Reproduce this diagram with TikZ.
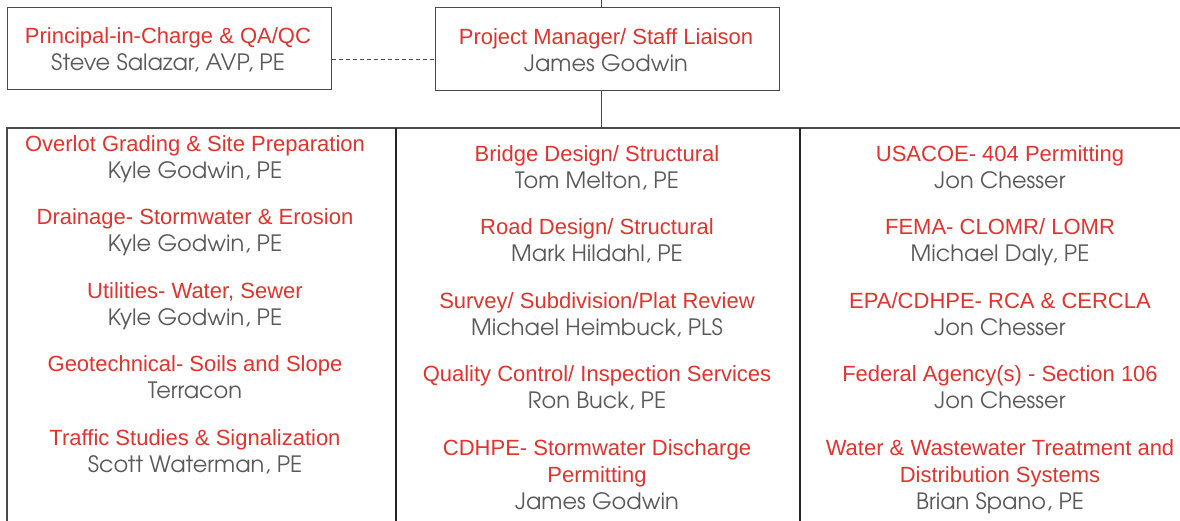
\documentclass[tikz,border=0pt]{standalone}
\usepackage{fontspec}
\setmainfont{Liberation Sans}
\newfontfamily\gothic{TeX Gyre Adventor}
\definecolor{ttlred}{HTML}{E0342C}
\definecolor{nmgray}{HTML}{595959}
\definecolor{frame}{HTML}{4A4A4A}
\newcommand{\tl}[1]{{\color{ttlred}#1}}
\newcommand{\nm}[1]{{\color{nmgray}\gothic\fontsize{22.5}{26.7}\selectfont #1}}
\begin{document}
\begin{tikzpicture}[x=1pt,y=-1pt,
  txt/.style={align=center,inner sep=0pt,anchor=base,font=\fontsize{22}{26.7}\selectfont},
  topbox/.style={draw=frame,line width=1pt,inner sep=0pt},
  frameline/.style={draw=frame,line width=1.2pt},
  divider/.style={draw=black!85,line width=1.8pt}]
\useasboundingbox (0,0) rectangle (1180,520);
\clip (0,0) rectangle (1180,520);
\fill[white] (0,0) rectangle (1180,520);
% top boxes
\node[topbox,minimum width=324pt,minimum height=82pt] (pic) at (169,48) {};
\node[topbox,minimum width=344pt,minimum height=83pt] (pm) at (607,48.5) {};
\node[txt] (pict) at (168,70.5) {\tl{Principal-in-Charge \& QA/QC}\\\nm{Steve Salazar, AVP, PE}};
\node[txt] (pmt) at (606,71.5) {\tl{Project Manager/ Staff Liaison}\\\nm{James Godwin}};
\coordinate (top) at (601.5,-5);
\coordinate (dashy) at (0,59);
\coordinate (bar) at (601.5,128);
\draw[frameline,line width=1pt] (top) -- (top |- pm.north);
\draw[frameline,line width=1pt] (bar |- pm.south) -- (bar);
\draw[frame,line width=1pt,dash pattern=on 4pt off 3pt] (pic.east |- dashy) -- (pm.west |- dashy);
% column frame
\coordinate (c0) at (7,128);
\coordinate (c1) at (396,128);
\coordinate (c2) at (800,128);
\coordinate (c3) at (1190,128);
\draw[frameline] (c3) -- (c0) -- ++(0,420);
\draw[divider] (c1) -- ++(0,420);
\draw[divider] (c2) -- ++(0,420);
% left column (anchor = baseline of last line)
\node[txt] (l1) at (195,178) {\tl{Overlot Grading \& Site Preparation}\\\nm{Kyle Godwin, PE}};
\node[txt] (l2) at (195,251.5) {\tl{Drainage- Stormwater \& Erosion}\\\nm{Kyle Godwin, PE}};
\node[txt] (l3) at (195,325) {\tl{Utilities- Water, Sewer}\\\nm{Kyle Godwin, PE}};
\node[txt] (l4) at (195,398.5) {\tl{Geotechnical- Soils and Slope}\\\nm{Terracon}};
\node[txt] (l5) at (195,472) {\tl{Traffic Studies \& Signalization}\\\nm{Scott Waterman, PE}};
% middle column
\node[txt] (m1) at (597,188) {\tl{Bridge Design/ Structural}\\\nm{Tom Melton, PE}};
\node[txt] (m2) at (597,261.5) {\tl{Road Design/ Structural}\\\nm{Mark Hildahl, PE}};
\node[txt] (m3) at (597,335) {\tl{Survey/ Subdivision/Plat Review}\\\nm{Michael Heimbuck, PLS}};
\node[txt] (m4) at (597,408.5) {\tl{Quality Control/ Inspection Services}\\\nm{Ron Buck, PE}};
\node[txt] (m5) at (597,509) {\tl{CDHPE- Stormwater Discharge}\\\tl{Permitting}\\\nm{James Godwin}};
% right column
\node[txt] (r1) at (1000,188) {\tl{USACOE- 404 Permitting}\\\nm{Jon Chesser}};
\node[txt] (r2) at (1000,261.5) {\tl{FEMA- CLOMR/ LOMR}\\\nm{Michael Daly, PE}};
\node[txt] (r3) at (1000,335) {\tl{EPA/CDHPE- RCA \& CERCLA}\\\nm{Jon Chesser}};
\node[txt] (r4) at (1000,408.5) {\tl{Federal Agency(s) - Section 106}\\\nm{Jon Chesser}};
\node[txt] (r5) at (1000,509) {\tl{Water \& Wastewater Treatment and}\\\tl{Distribution Systems}\\\nm{Brian Spano, PE}};
\end{tikzpicture}
\end{document}
